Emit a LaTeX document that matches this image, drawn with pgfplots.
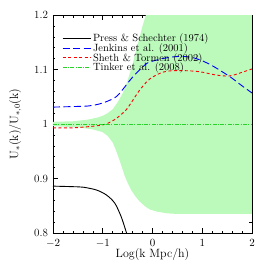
\documentclass[border=0pt]{standalone}
\usepackage{pgfplots}
\pgfplotsset{compat=1.18}
\definecolor{bandgreen}{RGB}{188,250,188}
\definecolor{tinkgreen}{RGB}{40,210,40}
\begin{document}
\begin{tikzpicture}
\useasboundingbox (-53pt,-33pt) rectangle (213pt,233pt);
\begin{axis}[
  scale only axis, width=199pt, height=218pt,
  xmin=-2, xmax=2, ymin=0.8, ymax=1.2,
  xtick={-2,-1,0,1,2}, ytick={0.8,0.9,1,1.1,1.2},
  yticklabels={0.8,0.9,1,1.1,1.2},
  minor x tick num=4, minor y tick num=4,
  tick align=inside, major tick length=5pt, minor tick length=2.5pt,
  xtick pos=both, ytick pos=both,
  tick style={black, line width=0.5pt},
  ticklabel style={font=\fontsize{11}{13}\selectfont},
  xticklabel style={yshift=-2.5pt},
  yticklabel style={xshift=-1.5pt},
  xlabel={Log(k Mpc/h)},
  ylabel={U$_*$(k)/U$_{*,0}$(k)},
  label style={font=\fontsize{12}{14}\selectfont},
  xlabel style={at={(axis description cs:0.5,-0.1)}, anchor=center},
  ylabel style={at={(axis description cs:-0.19,0.5)}, anchor=center, rotate=0},
  legend style={draw=none, fill=none, at={(axis description cs:0.04,0.93)}, anchor=north west,
    font=\fontsize{10.5}{11}\selectfont, row sep=-3.5pt, inner sep=1pt},
  legend cell align=left,
  legend image code/.code={\draw[#1] (0pt,0pt) -- (28pt,0pt);},
]
\addplot[fill=bandgreen, draw=none, forget plot] coordinates {
(-2,1.004) (-1.6,1.005) (-1.3,1.008) (-1.1,1.012) (-1.0,1.015) (-0.9,1.02) (-0.8,1.027) (-0.7,1.04) (-0.6,1.056) (-0.5,1.08) (-0.4,1.11) (-0.3,1.145) (-0.2,1.18) (-0.1,1.21) (0,1.24) (0.2,1.3) (2,1.3)
(2,0.835) (0.5,0.835) (0.3,0.836) (0.1,0.839) (-0.05,0.843) (-0.15,0.849) (-0.26,0.858) (-0.35,0.868) (-0.43,0.879) (-0.5,0.892) (-0.56,0.905) (-0.62,0.922) (-0.68,0.938) (-0.74,0.953) (-0.8,0.966) (-0.9,0.978) (-1.0,0.985) (-1.2,0.99) (-1.5,0.994) (-2,0.996)
} -- cycle;
\addplot[black, line width=0.9pt, smooth] coordinates {
(-2,0.886) (-1.6,0.885) (-1.39,0.884) (-1.13,0.879) (-0.93,0.870) (-0.76,0.855) (-0.63,0.83) (-0.53,0.8025) (-0.45,0.78)
};
\addlegendentry{Press \& Schechter (1974)}
\addplot[blue, line width=0.9pt, dash pattern=on 7pt off 3.5pt, smooth] coordinates {
(-2,1.031) (-1.6,1.032) (-1.3,1.033) (-1.1,1.036) (-0.9,1.042) (-0.73,1.05) (-0.6,1.063) (-0.5,1.075) (-0.39,1.087) (-0.25,1.1) (-0.1,1.112) (0.07,1.117) (0.2,1.12) (0.4,1.123) (0.6,1.124) (0.8,1.122) (1.0,1.116) (1.2,1.107) (1.4,1.096) (1.6,1.084) (1.8,1.07) (2.0,1.057)
};
\addlegendentry{Jenkins et al. (2001)}
\addplot[red, line width=0.9pt, dash pattern=on 3pt off 2.5pt, smooth] coordinates {
(-2,0.993) (-1.6,0.993) (-1.3,0.995) (-1.1,0.997) (-0.93,1.0) (-0.73,1.01) (-0.53,1.026) (-0.4,1.043) (-0.26,1.062) (-0.1,1.079) (0,1.086) (0.15,1.093) (0.3,1.097) (0.6,1.098) (0.94,1.096) (1.27,1.09) (1.54,1.088) (1.74,1.093) (2,1.101)
};
\addlegendentry{Sheth \& Tormen (2002)}
\addplot[tinkgreen, line width=0.9pt, dash pattern=on 4pt off 1.3pt on 1pt off 1.3pt] coordinates {
(-2,1) (2,1)
};
\addlegendentry{Tinker et al. (2008)}
\end{axis}
\end{tikzpicture}
\end{document}
